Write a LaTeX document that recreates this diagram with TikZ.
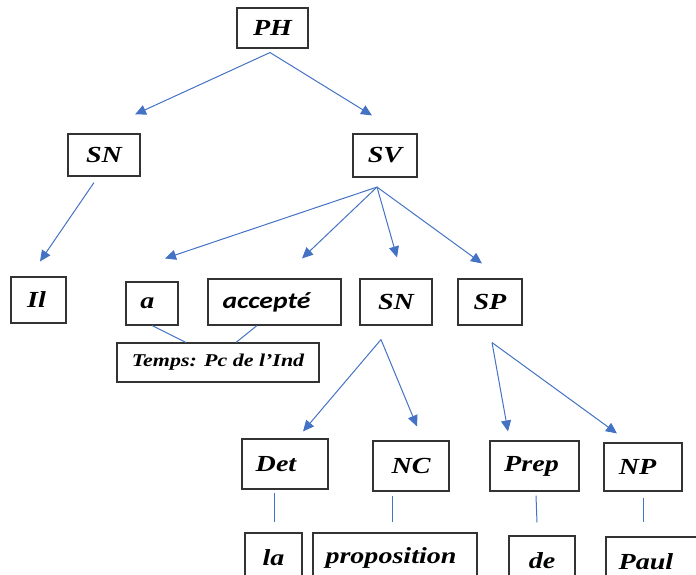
\documentclass[tikz,border=0pt]{standalone}
\usepackage{fontspec}
\setmainfont{Liberation Serif}[FakeStretch=1.22]
\newfontfamily\accfont{Carlito}[FakeStretch=1.2]
\usetikzlibrary{arrows.meta}

\definecolor{treeblue}{RGB}{68,114,196}

\tikzset{
  box/.style={draw=black!80, line width=1.1pt, inner sep=0pt,
    font=\fontsize{23}{25}\selectfont\bfseries\itshape},
  branch/.style={draw=treeblue, line width=1pt, -{Triangle[length=11pt,width=10pt]}},
  link/.style={draw=treeblue, line width=1pt}
}

\begin{document}
\begin{tikzpicture}[x=1pt, y=-1pt]
  \useasboundingbox (0,0) rectangle (696,574);

  % constituents
  \node[box, minimum width=71pt, minimum height=40pt]  (PH)    at (272.5,28)  {PH};
  \node[box, minimum width=72pt, minimum height=42pt]  (SN)    at (104,155)   {SN};
  \node[box, minimum width=64pt, minimum height=43pt]  (SV)    at (385,155.5) {SV};
  \node[box, minimum width=55pt, minimum height=46pt]  (Il)    at (38.5,300)  {Il\kern4pt};
  \node[box, minimum width=52pt, minimum height=43pt]  (a)     at (152,303.5) {a\kern9pt};
  \node[box, minimum width=133pt, minimum height=46pt] (accepte) at (274.5,302) {\accfont accepté\kern16pt};
  \node[box, minimum width=72pt, minimum height=46pt]  (SNobj) at (396,302)   {SN};
  \node[box, minimum width=64pt, minimum height=46pt]  (SP)    at (490,302)   {SP};
  \node[box, minimum width=202pt, minimum height=39pt,
        font=\fontsize{18}{20}\selectfont\bfseries\itshape] (temps) at (218,362.5) {Temps: Pc de l’Ind};
  \node[box, minimum width=86pt, minimum height=50pt]  (Det)   at (285,464)   {Det\kern18pt};
  \node[box, minimum width=76pt, minimum height=50pt]  (NC)    at (411,466)   {NC};
  \node[box, minimum width=89pt, minimum height=50pt]  (Prep)  at (534.5,466) {Prep\kern6pt};
  \node[box, minimum width=78pt, minimum height=48pt]  (NP)    at (643,467)   {NP\kern11pt};

  % words
  \node[box, minimum width=57pt, minimum height=50pt]  (la)    at (273.5,558) {la};
  \node[box, minimum width=164pt, minimum height=50pt] (propos) at (395,558)  {proposition\kern8pt};
  \node[box, minimum width=66pt, minimum height=50pt]  (de)    at (542,561)   {de};
  \node[box, minimum width=96pt, minimum height=50pt]  (Paul)  at (654,562)   {Paul\kern16pt};

  % fan points under each parent
  \coordinate (PHfan)  at ([xshift=-2.5pt,yshift=-4pt]PH.south);
  \coordinate (SNfan)  at ([xshift=-10pt,yshift=-6pt]SN.south);
  \coordinate (SVfan)  at ([xshift=-8pt,yshift=-9.5pt]SV.south);
  \coordinate (SNofan) at ([xshift=-15pt,yshift=-14pt]SNobj.south);
  \coordinate (SPfan)  at ([xshift=2pt,yshift=-17pt]SP.south);

  \draw[branch] (PHfan) -- ([xshift=31pt,yshift=19pt]SN.north);
  \draw[branch] (PHfan) -- ([xshift=-13pt,yshift=18pt]SV.north);
  \draw[branch] (SNfan) -- ([xshift=1.5pt,yshift=15pt]Il.north);
  \draw[branch] (SVfan) -- ([xshift=13pt,yshift=23pt]a.north);
  \draw[branch] (SVfan) -- ([xshift=27.5pt,yshift=20pt]accepte.north);
  \draw[branch] (SVfan) -- ([xshift=1pt,yshift=21pt]SNobj.north);
  \draw[branch] (SVfan) -- ([xshift=-8pt,yshift=15pt]SP.north);
  \draw[branch] (SNofan) -- ([xshift=18pt,yshift=7pt]Det.north);
  \draw[branch] (SNofan) -- ([xshift=6pt,yshift=14pt]NC.north);
  \draw[branch] (SPfan) -- ([xshift=-26.5pt,yshift=9pt]Prep.north);
  \draw[branch] (SPfan) -- ([xshift=-26pt,yshift=9pt]NP.north);

  % tense note and lexical links
  \draw[link] (a.south) -- ([xshift=-32pt]temps.north);
  \draw[link] ([xshift=-17.5pt]accepte.south) -- ([xshift=18pt]temps.north);
  \draw[link] ([xshift=-11pt,yshift=-3pt]Det.south) -- ([xshift=0.5pt,yshift=10pt]la.north);
  \draw[link] ([xshift=-19pt,yshift=-4pt]NC.south) -- ([xshift=-3pt,yshift=10pt]propos.north);
  \draw[link] ([xshift=1.5pt,yshift=-4pt]Prep.south) -- ([xshift=-5pt,yshift=13pt]de.north);
  \draw[link] ([yshift=-6pt]NP.south) -- ([xshift=-11pt,yshift=14pt]Paul.north);
\end{tikzpicture}
\end{document}
